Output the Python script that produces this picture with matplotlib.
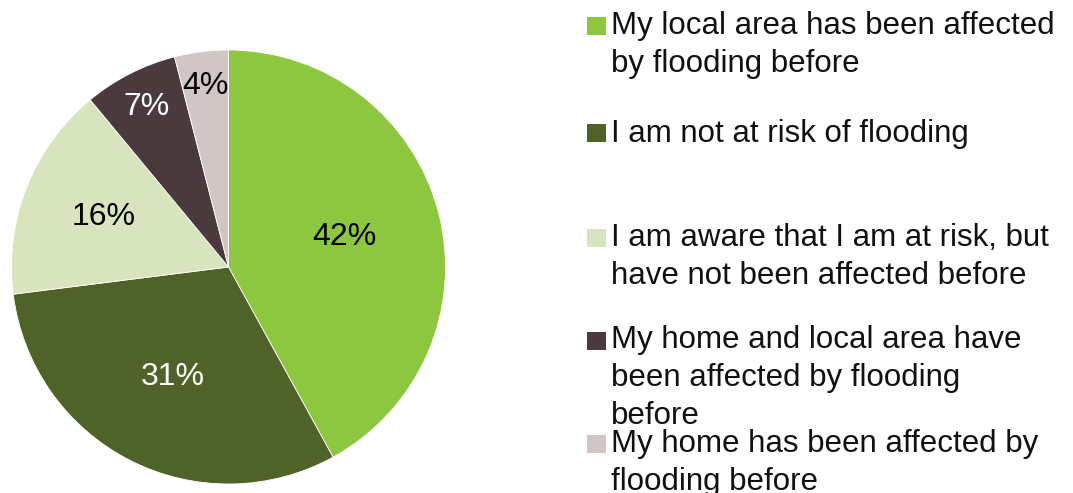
import numpy as np
import matplotlib
matplotlib.use("Agg")
from matplotlib import pyplot as plt
from matplotlib.patches import Rectangle

labels = [
    "My local area has been affected\nby flooding before",
    "I am not at risk of flooding",
    "I am aware that I am at risk, but\nhave not been affected before",
    "My home and local area have\nbeen affected by flooding\nbefore",
    "My home has been affected by\nflooding before",
]
shares = [42, 31, 16, 7, 4]
colors = ["#8DC63F", "#4F6228", "#D7E4BD", "#4A3A3D", "#D2C5C6"]
pct_colors = ["black", "white", "black", "white", "black"]
pct_radius = [0.55, 0.57, 0.62, 0.83, 0.84]
legend_baselines = [35, 142, 247, 350, 453]  # first-line baselines, px from top
line_px = 37

plt.rcParams['font.family'] = ['Liberation Sans', 'DejaVu Sans']

W, H = 1073, 493
fig = plt.figure(figsize=(W / 100, H / 100), dpi=100)

cx, cy, r = 228.5, 267, 217
ax = fig.add_axes([(cx - r) / W, (H - cy - r) / H, 2 * r / W, 2 * r / H])
wedges, _ = ax.pie(shares, colors=colors, startangle=90, counterclock=False,
                   wedgeprops=dict(edgecolor="white", linewidth=0.6))
ax.set_xlim(-1, 1)
ax.set_ylim(-1, 1)
ax.set_aspect("equal")
ax.axis("off")

for w, s, c, rr in zip(wedges, shares, pct_colors, pct_radius):
    ang = np.deg2rad((w.theta1 + w.theta2) / 2)
    ax.text(rr * np.cos(ang), rr * np.sin(ang), f"{s}%", color=c,
            fontsize=23, ha="center", va="center")

# legend drawn by hand to keep the uneven spacing
for lab, col, base in zip(labels, colors, legend_baselines):
    fig.patches.append(Rectangle((587 / W, (H - base) / H), 19 / W, 18 / H,
                                 transform=fig.transFigure, facecolor=col,
                                 edgecolor="none"))
    last = base + (lab.count("\n")) * line_px
    fig.text(611 / W, (H - last) / H, lab, fontsize=22.5, va="baseline",
             ha="left", linespacing=1.35, color="#111111")

fig.savefig("out.png", dpi=100)
